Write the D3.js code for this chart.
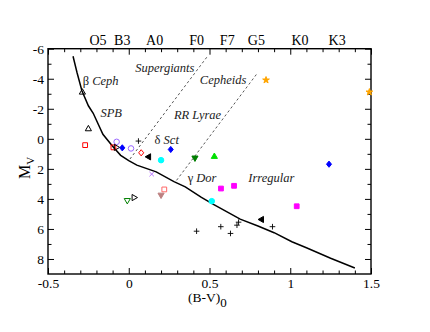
<!DOCTYPE html>
<html>
<head>
  <meta charset="utf-8" />
  <script src="https://d3js.org/d3.v7.min.js"></script>
  <style>
    body { margin: 0; background: #fff; }
    svg text { font-family: 'Liberation Serif', 'DejaVu Serif', serif; fill: #000; }
    .note { font-style: italic; font-size: 12.5px; fill: #222; }
  </style>
</head>
<body>
  <svg id="hr" width="430" height="332"></svg>
  <script>
    // ZAMS curve, (B-V)0 vs Mv
    const zamsBV = [-0.345, -0.32, -0.29, -0.25, -0.22, -0.16, -0.1, -0.05, 0, 0.05, 0.17, 0.28, 0.35, 0.45, 0.53, 0.69, 0.8, 0.9, 1.01, 1.1, 1.25, 1.4];
    const zamsMV = [-5.5, -4.4, -3.2, -2.2, -1.7, -0.3, 0.5, 1.1, 1.45, 1.75, 2.2, 2.85, 3.2, 3.9, 4.4, 5.35, 5.8, 6.25, 6.85, 7.25, 7.95, 8.6];

    // instability strip edges (dashed)
    const edgeBV = [[0.483, 0.0], [0.79, 0.287]];
    const edgeMV = [[-5.43, 1.45], [-4.28, 2.89]];

    // stars
    const starBV = [-0.287, -0.25, -0.27, -0.075, -0.095, -0.075, -0.04, 0.014, 0.06, 0.077, 0.121, 0.26, 0.2, 0.41, 0.53, 0.142, 0.22, 0.2, -0.009, 0.035, 0.85, 1.49, 1.24, 0.571, 0.652, 1.04, 0.514, 0.82, 0.57, 0.63, 0.67, 0.68, 0.89, 0.42];
    const starMV = [-3.13, -0.69, 0.42, 0.2, 0.57, 0.57, 0.6, 0.64, 0.15, 0.93, 1.2, 0.71, 1.42, 1.3, 1.15, 2.35, 3.37, 3.77, 4.13, 3.91, -3.91, -3.11, 1.69, 3.31, 3.13, 4.49, 4.15, 5.37, 5.85, 6.3, 5.75, 5.55, 5.85, 6.15];
    const starShape = ["up", "up", "square", "circle", "square", "right", "diamond", "circle", "plus", "diamond", "left", "diamond", "circle", "down", "up", "times", "square", "down", "down", "right", "star", "star", "diamond", "square", "square", "square", "circle", "left", "plus", "plus", "plus", "plus", "plus", "plus"];
    const starColor = ["#000", "#000", "#ff0000", "#9966ff", "#ff0000", "#000", "#0000ff", "#9966ff", "#000", "#ff0000", "#000", "#0000ff", "#00ffff", "#007f00", "#00e000", "#b266ff", "#ff6666", "#bc8080", "#007f00", "#000", "#ffa500", "#ffa500", "#0000ff", "#ff00ff", "#ff00ff", "#ff00ff", "#00ffff", "#000", "#000", "#000", "#000", "#000", "#000", "#000"];
    const starFilled = [0, 0, 0, 0, 0, 0, 1, 0, 0, 0, 1, 1, 1, 1, 1, 0, 0, 1, 0, 0, 1, 1, 1, 1, 1, 1, 1, 1, 0, 0, 0, 0, 0, 0];

    // spectral types along the top
    const specLabels = ["O5", "B3", "A0", "F0", "F7", "G5", "K0", "K3"];
    const specBV = [-0.19, -0.04, 0.16, 0.42, 0.61, 0.79, 1.06, 1.29];

    const xTickLabels = ["-0.5", "0", "0.5", "1", "1.5"];
    const yTickLabels = ["-6", "-4", "-2", "0", "2", "4", "6", "8"];

    const notes = [
      { greek: "β ", name: "Ceph", bv: -0.285, mv: -3.6 },
      { greek: "", name: "SPB", bv: -0.175, mv: -1.45 },
      { greek: "", name: "Supergiants", bv: 0.04, mv: -4.45 },
      { greek: "", name: "Cepheids", bv: 0.44, mv: -3.62 },
      { greek: "", name: "RR Lyrae", bv: 0.28, mv: -1.3 },
      { greek: "δ ", name: "Sct", bv: 0.16, mv: 0.33 },
      { greek: "γ ", name: "Dor", bv: 0.365, mv: 2.9 },
      { greek: "", name: "Irregular", bv: 0.74, mv: 2.9 }
    ];

    const svg = d3.select("#hr");
    const margin = { top: 48.7, left: 48, right: 59, bottom: 58 };
    const width = 430 - margin.left - margin.right;
    const height = 332 - margin.top - margin.bottom;
    const g = svg.append("g").attr("transform", "translate(" + margin.left + "," + margin.top + ")");

    const x = d3.scaleLinear().domain([-0.5, 1.5]).range([0, width]);
    const y = d3.scaleLinear().domain([-6, 9]).range([0, height]);

    const xMajor = [-0.5, 0, 0.5, 1, 1.5];
    const xMinor = d3.range(-4, 15).map(d => d / 10).filter(d => Math.abs(d * 2 - Math.round(d * 2)) > 1e-6);
    const yMajor = [-6, -4, -2, 0, 2, 4, 6, 8];
    const yMinor = [-5, -3, -1, 1, 3, 5, 7];

    function styleAxis(sel) {
      sel.attr("font-family", "'Liberation Serif', serif").attr("font-size", 13.5);
      sel.select(".domain").remove();
      sel.selectAll("line").attr("stroke", "#000").attr("stroke-width", 1);
      sel.selectAll("text").attr("fill", "#000");
    }

    // bottom
    g.append("g").attr("transform", "translate(0," + height + ")")
      .call(d3.axisBottom(x).tickValues(xMajor).tickSizeInner(-6).tickSizeOuter(0).tickPadding(4).tickFormat((d, i) => xTickLabels[i]))
      .call(styleAxis);
    g.append("g").attr("transform", "translate(0," + height + ")")
      .call(d3.axisBottom(x).tickValues(xMinor).tickSize(-3.5).tickFormat(""))
      .call(styleAxis);
    // top
    g.append("g").call(d3.axisTop(x).tickValues(xMajor).tickSize(-6).tickFormat("")).call(styleAxis);
    g.append("g").call(d3.axisTop(x).tickValues(xMinor).tickSize(-3.5).tickFormat("")).call(styleAxis);
    // left
    g.append("g")
      .call(d3.axisLeft(y).tickValues(yMajor).tickSizeInner(-6).tickSizeOuter(0).tickPadding(4).tickFormat((d, i) => yTickLabels[i]))
      .call(styleAxis);
    g.append("g").call(d3.axisLeft(y).tickValues(yMinor).tickSize(-3.5).tickFormat("")).call(styleAxis);
    // right
    g.append("g").attr("transform", "translate(" + width + ",0)")
      .call(d3.axisRight(y).tickValues(yMajor).tickSize(-6).tickFormat("")).call(styleAxis);
    g.append("g").attr("transform", "translate(" + width + ",0)")
      .call(d3.axisRight(y).tickValues(yMinor).tickSize(-3.5).tickFormat("")).call(styleAxis);

    g.append("rect").attr("width", width).attr("height", height)
      .attr("fill", "none").attr("stroke", "#000").attr("stroke-width", 1.4);

    // spectral labels
    g.selectAll("text.spec").data(specLabels).join("text")
      .attr("class", "spec")
      .attr("x", (d, i) => x(specBV[i]))
      .attr("y", -4)
      .attr("text-anchor", "middle")
      .style("font-size", "14px")
      .text(d => d);

    // dashed edges
    edgeBV.forEach((bv, i) => {
      g.append("line")
        .attr("x1", x(bv[0])).attr("y1", y(edgeMV[i][0]))
        .attr("x2", x(bv[1])).attr("y2", y(edgeMV[i][1]))
        .attr("stroke", "#444").attr("stroke-width", 0.9)
        .attr("stroke-dasharray", "2.5,2.5");
    });

    // ZAMS
    const zams = zamsBV.map((d, i) => [d, zamsMV[i]]);
    g.append("path").datum(zams)
      .attr("fill", "none").attr("stroke", "#000").attr("stroke-width", 1.5)
      .attr("d", d3.line().x(d => x(d[0])).y(d => y(d[1])));

    // labels in the diagram
    notes.forEach(n => {
      const t = g.append("text").attr("x", x(n.bv)).attr("y", y(n.mv)).attr("class", "note");
      if (n.greek) t.append("tspan").style("font-style", "normal").text(n.greek);
      t.append("tspan").text(n.name);
    });

    // star symbols
    const r = 2.8;
    function shapePath(s) {
      const h = r * 1.1;
      switch (s) {
        case "up": return `M0,${-h}L${h},${h * 0.75}L${-h},${h * 0.75}Z`;
        case "down": return `M0,${h}L${h},${-h * 0.75}L${-h},${-h * 0.75}Z`;
        case "left": return `M${-h},0L${h * 0.75},${-h}L${h * 0.75},${h}Z`;
        case "right": return `M${h},0L${-h * 0.75},${-h}L${-h * 0.75},${h}Z`;
        case "square": return `M${-r * 0.85},${-r * 0.85}h${r * 1.7}v${r * 1.7}h${-r * 1.7}Z`;
        case "circle": return d3.symbol(d3.symbolCircle, 24)();
        case "diamond": return `M0,${-r * 1.1}L${r * 0.9},0L0,${r * 1.1}L${-r * 0.9},0Z`;
        case "plus": return `M${-r},0H${r}M0,${-r}V${r}`;
        case "times": return `M${-r * 0.8},${-r * 0.8}L${r * 0.8},${r * 0.8}M${-r * 0.8},${r * 0.8}L${r * 0.8},${-r * 0.8}`;
        case "star": return d3.symbol(d3.symbolStar, 14)();
      }
    }

    const stars = g.append("g");
    starBV.forEach((bv, i) => {
      const s = starShape[i];
      const stroke = s === "plus" || s === "times";
      const filled = starFilled[i] && !stroke;
      stars.append("path")
        .attr("transform", "translate(" + x(bv) + "," + y(starMV[i]) + ")")
        .attr("d", shapePath(s))
        .attr("fill", filled ? starColor[i] : "none")
        .attr("stroke", starColor[i])
        .attr("stroke-width", stroke ? 0.9 : 1);
    });

    // axis titles
    const xt = svg.append("text").attr("x", 188).attr("y", 302).style("font-size", "13.5px");
    xt.append("tspan").text("(B-V)");
    xt.append("tspan").attr("dy", 5).style("font-size", "13px").text("0");

    const yt = svg.append("text").attr("transform", "translate(30,179) rotate(-90)").style("font-size", "16px");
    yt.append("tspan").text("M");
    yt.append("tspan").attr("dy", 4).style("font-size", "11px").text("V");
  </script>
</body>
</html>
